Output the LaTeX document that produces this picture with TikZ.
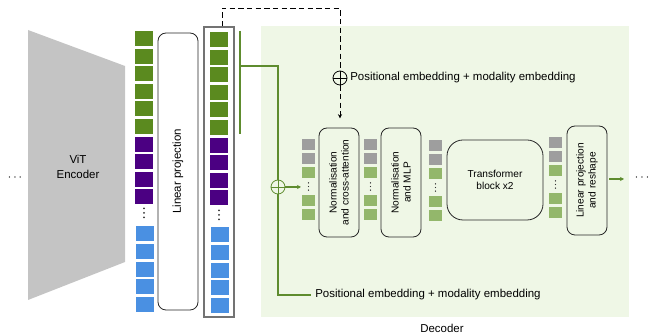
\documentclass[tikz,border=0pt]{standalone}
\usepackage{fontspec}
\setmainfont{Liberation Sans}
\usetikzlibrary{arrows.meta,calc}
\definecolor{tokgreen}{HTML}{5B8A1F}
\definecolor{tokpurple}{HTML}{4B0082}
\definecolor{tokblue}{HTML}{4A90E2}
\definecolor{tokgray}{HTML}{9E9E9E}
\definecolor{toklight}{HTML}{93B76B}
\definecolor{decbg}{HTML}{EFF7E6}
\definecolor{linegreen}{HTML}{5E8C2E}
\definecolor{encgray}{HTML}{C4C4C4}
\begin{document}
\begin{tikzpicture}[x=0.75pt,y=-0.75pt,
  procbox/.style={draw=black!85,line width=0.6pt,rounded corners=6pt,align=center,inner sep=0pt,font=\fontsize{7.6}{9}\selectfont},
  oplus/.style={draw,circle,line width=0.6pt,minimum size=10.5pt,inner sep=0pt,
    path picture={\draw[line width=0.6pt] (path picture bounding box.north)--(path picture bounding box.south) (path picture bounding box.west)--(path picture bounding box.east);}},
  gline/.style={draw=linegreen,line width=0.8pt},
  lbl/.style={font=\fontsize{8.6}{10}\selectfont,inner sep=0pt},
  dashline/.style={dash pattern=on 4pt off 2.5pt,line width=0.7pt}
]
\useasboundingbox (0,0) rectangle (654,334);
% decoder background
\fill[decbg] (261,26) rectangle (629,317);
\node[lbl] (declbl) at (442,328) {Decoder};
% encoder
\fill[encgray] (28,30) -- (125,66) -- (125,262) -- (28,300) -- cycle;
\node[lbl,align=center] (enc) at (78,167) {ViT\\[1pt]Encoder};
\node[lbl] (ldots) at (15,178) {$\cdots$};
% left token column
\foreach \i in {0,...,5} {\fill[tokgreen] (135,{31+17.6*\i}) rectangle ++(18,15);}
\foreach \i in {6,...,9} {\fill[tokpurple] (135,{31+17.6*\i}) rectangle ++(18,15);}
\foreach \d in {-4.5,0,4.5} {\fill[black!80] (144,213+\d) circle (0.75pt);}
\foreach \i in {0,...,4} {\fill[tokblue] (136,{226+17.8*\i}) rectangle ++(18,15);}
% linear projection
\node[procbox,rotate=90,minimum width=277*0.75pt,minimum height=40*0.75pt,font=\fontsize{8.6}{10}\selectfont] (lp) at (178,171.5) {Linear projection};
% right token column
\node[draw=black!55,line width=0.8pt,minimum width=30*0.75pt,minimum height=290*0.75pt,inner sep=0pt] (rcol) at (219,172) {};
\foreach \i in {0,...,5} {\fill[tokgreen] (210,{32+17.6*\i}) rectangle ++(18,15);}
\foreach \i in {6,...,9} {\fill[tokpurple] (210,{32+17.6*\i}) rectangle ++(18,15);}
\foreach \d in {-4.5,0,4.5} {\fill[black!80] (219,215+\d) circle (0.75pt);}
\foreach \i in {0,...,4} {\fill[tokblue] (211,{227+17.8*\i}) rectangle ++(18,15);}
% decoder token columns
\foreach \cx/\dy in {302/0,364/0,429/1,549/-2} {
  \fill[tokgray] (\cx,139+\dy) rectangle ++(13,11);
  \fill[tokgray] (\cx,153+\dy) rectangle ++(13,11);
  \fill[toklight] (\cx,167+\dy) rectangle ++(13,11);
  \foreach \d in {-3.6,0,3.6} {\fill[black!80] (\cx+6.5,186.5+\dy+\d) circle (0.55pt);}
  \fill[toklight] (\cx,195+\dy) rectangle ++(13,11);
  \fill[toklight] (\cx,209+\dy) rectangle ++(13,11);
}
\coordinate (col1) at (301,187);
% decoder boxes
\node[procbox,rotate=90,minimum width=109*0.75pt,minimum height=40*0.75pt] (ca) at (339,182.5) {Normalisation\\and cross-attention};
\node[procbox,rotate=90,minimum width=109*0.75pt,minimum height=40*0.75pt] (mlp) at (401,182.5) {Normalisation\\and MLP};
\node[procbox,rounded corners=12pt,minimum width=96*0.75pt,minimum height=80*0.75pt] (tb) at (495,180) {Transformer\\block x2};
\node[procbox,rotate=90,minimum width=109*0.75pt,minimum height=40*0.75pt] (lpr) at (587,180.5) {Linear projection\\and reshape};
% output
\coordinate (outend) at (624,179);
\draw[gline,-{Stealth[length=3pt,width=3pt]}] ($(lpr.south |- outend)+(2,0)$) -- (outend);
\node[lbl] (rdots) at (642,178) {$\cdots$};
% dashed cross-attention path
\node[oplus] (pe1) at (340,78) {};
\node[lbl,anchor=west] (pe1t) at (350,78) {Positional embedding + modality embedding};
\draw[dashline] ($(rcol.north)+(3,0)$) |- (340,8) -- (pe1.north);
\draw[dashline,-{Stealth[length=3pt,width=3pt]},shorten >=7pt] (pe1.south) -- (pe1.south |- ca.east);
% green query path
\draw[gline] (240,31) -- (240,134);
\node[oplus,draw=linegreen,path picture={\draw[linegreen,line width=0.7pt] (path picture bounding box.north)--(path picture bounding box.south) (path picture bounding box.west)--(path picture bounding box.east);}] (pe2) at (278,187) {};
\node[lbl,anchor=west] (pe2t) at (315,295) {Positional embedding + modality embedding};
\draw[gline] (240,66) -| (pe2.north);
\draw[gline] (pe2.south) |- ($(pe2t.west)+(-4,0)$);
\draw[gline,-{Stealth[length=3pt,width=3pt]}] (pe2.east) -- (col1);
\end{tikzpicture}
\end{document}
